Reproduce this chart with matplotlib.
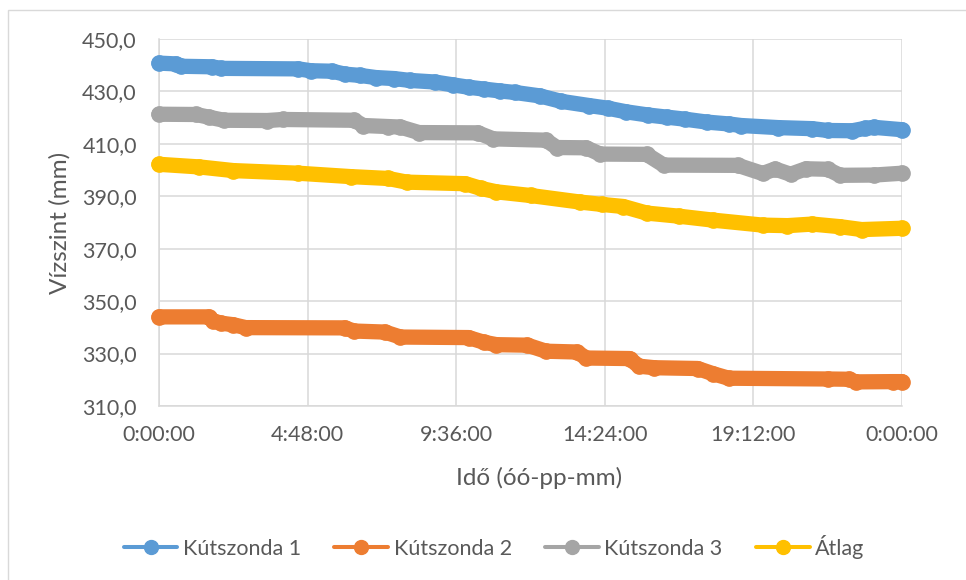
import numpy as np
import matplotlib
matplotlib.use('Agg')
import matplotlib.pyplot as plt
from matplotlib.ticker import FuncFormatter, FixedLocator
from matplotlib.patches import Rectangle

plt.rcParams['font.family'] = ['Lato', 'DejaVu Sans']

# idő órában (0 = éjfél, 24 = következő éjfél), vízszint mm-ben
hours1 = [0, 0.55, 0.7, 1.7, 2.0, 4.5, 4.9, 5.6, 6.0, 6.5, 7.0, 7.6, 8.1, 8.9, 9.5, 10.0, 10.5, 11.0,
          11.5, 12.3, 13.0, 13.9, 14.5, 15.1, 15.8, 16.4, 17.0, 17.7, 18.4, 18.8, 20.0, 21.1, 21.6,
          22.4, 22.8, 23.1, 24.0]
level1 = [440.8, 440.5, 439.6, 439.4, 438.8, 438.6, 437.9, 437.7, 436.6, 436.1, 435.3, 434.9, 434.2,
          433.6, 432.5, 431.6, 430.9, 430.2, 429.6, 428.3, 426.2, 424.6, 423.6, 422.2, 421.0, 420.2,
          419.4, 418.3, 417.6, 417.0, 416.2, 415.8, 415.1, 415.0, 415.9, 416.3, 415.4]

hours2 = [0, 1.6, 1.75, 2.0, 2.4, 2.8, 6.0, 6.3, 7.3, 7.8, 10.0, 10.5, 10.9, 11.9, 12.5, 13.5, 13.8,
          15.2, 15.5, 16.0, 17.4, 17.9, 18.4, 21.6, 22.3, 22.5, 23.7, 24.0]
level2 = [344.0, 344.0, 342.5, 341.6, 341.0, 339.9, 339.8, 338.6, 338.2, 336.3, 336.1, 334.3, 333.4,
          333.2, 330.9, 330.6, 328.3, 328.1, 325.2, 324.6, 324.3, 322.3, 320.6, 320.3, 320.2, 319.2,
          319.3, 319.3]

hours3 = [0, 1.2, 1.6, 2.1, 3.5, 4.0, 6.3, 6.6, 7.4, 7.8, 8.4, 10.3, 10.8, 12.5, 12.85, 13.8, 14.25,
          15.75, 16.3, 18.7, 19.5, 19.9, 20.4, 20.9, 21.6, 22.0, 23.1, 24.0]
level3 = [421.3, 421.2, 420.2, 419.0, 418.9, 419.3, 419.0, 417.0, 416.6, 416.4, 414.3, 414.2, 411.9,
          411.4, 408.6, 408.5, 406.1, 406.0, 401.9, 401.8, 398.7, 400.4, 398.4, 400.5, 400.3, 398.0,
          398.1, 398.8]

hours_avg = [0, 1.3, 2.4, 4.5, 6.2, 7.4, 8.0, 9.9, 10.4, 10.9, 12.0, 13.6, 14.3, 15.0, 15.75, 16.8,
             17.9, 19.5, 20.3, 21.1, 22.0, 22.7, 24.0]
level_avg = [402.2, 401.2, 399.8, 398.8, 397.5, 396.8, 395.4, 394.8, 393.0, 391.7, 390.3, 387.8,
             386.9, 386.1, 383.6, 382.4, 380.9, 379.0, 378.8, 379.4, 378.4, 377.3, 377.8]

names = ['Kútszonda 1', 'Kútszonda 2', 'Kútszonda 3', 'Átlag']
colors = ['#5B9BD5', '#ED7D31', '#A5A5A5', '#FFC000']
series = [(hours1, level1), (hours2, level2), (hours3, level3), (hours_avg, level_avg)]

x_ticks = [0, 4.8, 9.6, 14.4, 19.2, 24]
y_ticks = np.arange(310, 451, 20)

text_color = '#595959'
grid_color = '#D9D9D9'

fig = plt.figure(figsize=(9.66, 5.80), dpi=100)
ax = fig.add_axes([159 / 966, 174 / 580, 743 / 966, 367 / 580])

for (h, v), name, c in zip(series, names, colors):
    ax.plot(h, v, color=c, lw=11, marker='o', ms=11, mec=c, label=name,
            solid_capstyle='round', solid_joinstyle='round', clip_on=False, zorder=3)


def hms(x, pos):
    total = int(round(x * 3600)) % (24 * 3600)
    return f'{total // 3600}:{total % 3600 // 60:02d}:{total % 60:02d}'


ax.set_xlim(0, 24)
ax.set_ylim(310, 450)
ax.xaxis.set_major_locator(FixedLocator(x_ticks))
ax.yaxis.set_major_locator(FixedLocator(y_ticks))
ax.xaxis.set_major_formatter(FuncFormatter(hms))
ax.yaxis.set_major_formatter(FuncFormatter(lambda y, p: f'{y:.1f}'.replace('.', ',')))

ax.set_axisbelow(True)
ax.grid(True, color=grid_color, lw=1.1)
for s in ['top', 'right']:
    ax.spines[s].set_visible(False)
for s in ['left', 'bottom']:
    ax.spines[s].set_color(grid_color)
    ax.spines[s].set_linewidth(1.1)
ax.tick_params(length=0, labelsize=15.5, labelcolor=text_color)
ax.tick_params(axis='y', pad=16)
ax.tick_params(axis='x', pad=14)

ax.set_xlabel('Idő (óó-pp-mm)', fontsize=17.5, color=text_color)
ax.set_ylabel('Vízszint (mm)', fontsize=17.5, color=text_color)
ax.xaxis.label.set_va('center')
ax.yaxis.label.set_va('center')
ax.xaxis.set_label_coords(0.511, -0.196)
ax.yaxis.set_label_coords(-0.133, 0.5)

leg = fig.legend(loc='center', bbox_to_anchor=(494 / 966, 1 - 547 / 580), ncol=4, frameon=False,
                 fontsize=15.5, handlelength=2.5, handletextpad=0.25, columnspacing=1.55)
for t in leg.get_texts():
    t.set_color(text_color)
for lh in leg.legend_handles:
    lh.set_linewidth(2.9)
    lh.set_markersize(10)

# chart frame
fig.patches.append(Rectangle((8 / 966, -0.2), 1.2, 1.2 - 10 / 580, transform=fig.transFigure,
                             fill=False, ec=grid_color, lw=1.0))

fig.savefig('out.png', dpi=100)
